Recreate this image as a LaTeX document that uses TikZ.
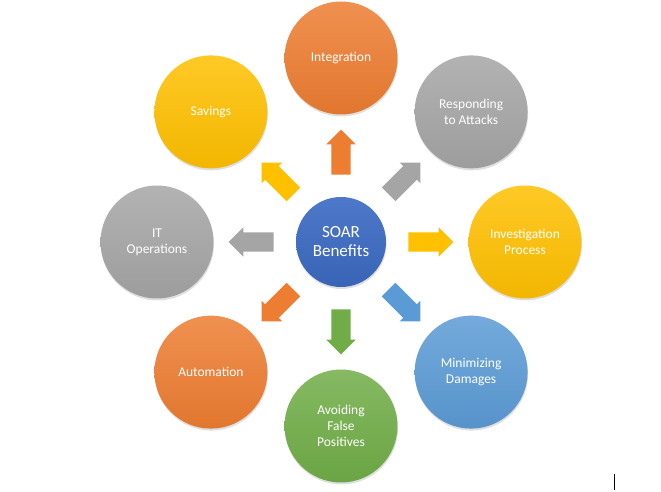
\documentclass[tikz,border=0pt]{standalone}
\usepackage{fontspec}
\setmainfont{Carlito}
\usetikzlibrary{shapes.arrows,shadows,calc}

\definecolor{soarOrange}{HTML}{ED7D31}
\definecolor{soarGray}{HTML}{A5A5A5}
\definecolor{soarYellow}{HTML}{FFC000}
\definecolor{soarBlue}{HTML}{5B9BD5}
\definecolor{soarGreen}{HTML}{70AD47}
\definecolor{soarHub}{HTML}{3E6DC6}

\begin{document}
\begin{tikzpicture}[x=1pt,y=1pt]
    \tikzset{
        bubble/.style={circle, minimum size=113pt, inner sep=0pt, text=white, align=center,
            font=\fontsize{13.5}{16}\selectfont,
            top color=#1!85!white, bottom color=#1!95!black,
            drop shadow={opacity=0.25, shadow xshift=0.5pt, shadow yshift=-2pt}},
        hub/.style={bubble=#1, minimum size=90pt, font=\fontsize{17}{19}\selectfont,
            top color=#1!92!white, bottom color=#1!92!black},
        blockarrow/.style={single arrow, draw=none, fill=#1, inner sep=9.5pt,
            single arrow head extend=5pt, minimum height=45pt}
    }
    \useasboundingbox (0,0) rectangle (661,492);

    \node[hub=soarHub] (soar) at (341,250) {SOAR\\Benefits};

    \foreach \ang/\name/\col/\txt in {
        90/integ/soarOrange/Integration,
        45/respond/soarGray/{Responding\\to Attacks},
        0/invest/soarYellow/{Investigation\\Process},
        -45/minim/soarBlue/{Minimizing\\Damages},
        -90/avoid/soarGreen/{Avoiding\\False\\Positives},
        -135/autom/soarOrange/Automation,
        180/itops/soarGray/{IT\\Operations},
        135/savings/soarYellow/Savings}
    {
        \node[bubble=\col] (\name) at ($(soar)+(\ang:184)$) {\txt};
        \node[blockarrow=\col, rotate=\ang] (ar-\name) at ($(soar)+(\ang:85)$) {};
    }

    % cursor mark, bottom right
    \coordinate (mark-a) at (614,2);
    \coordinate (mark-b) at (614,18);
    \draw[line width=1pt] (mark-a) -- (mark-b);
\end{tikzpicture}
\end{document}
